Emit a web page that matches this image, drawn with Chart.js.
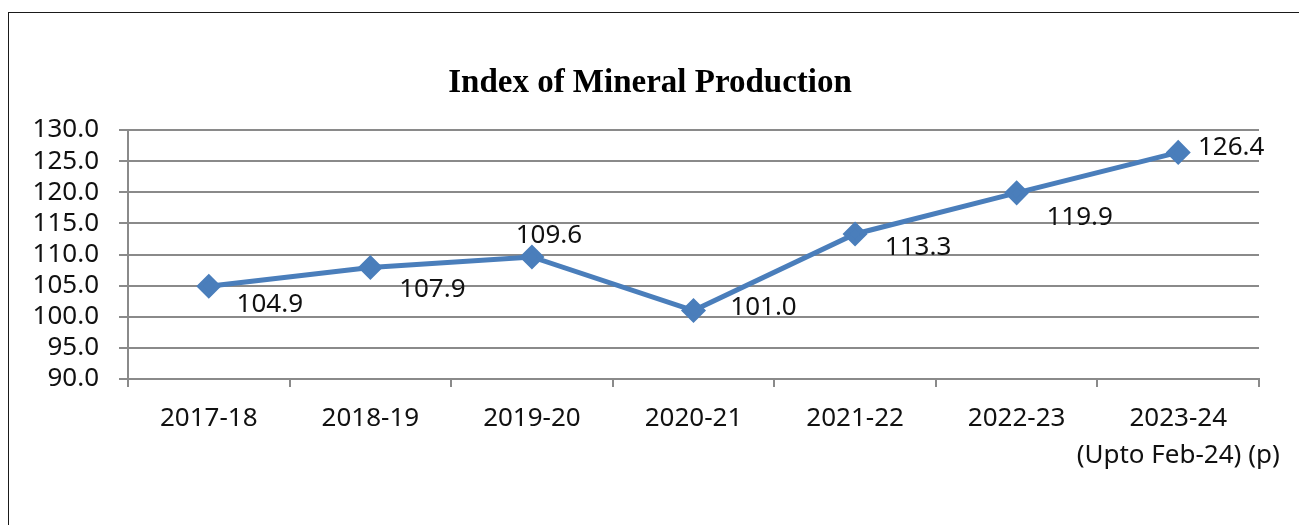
<!DOCTYPE html>
<html>
<head>
<meta charset="utf-8">
<script src="https://cdn.jsdelivr.net/npm/chart.js@4.4.1/dist/chart.umd.min.js"></script>
<style>
  html, body { margin: 0; padding: 0; background: #fff; }
  #wrap { position: relative; width: 1299px; height: 525px; overflow: hidden; }
  #frame { position: absolute; left: 8px; top: 12px; width: 1400px; height: 600px;
           border-left: 1.5px solid #1a1a1a; border-top: 1.5px solid #1a1a1a; }
  canvas { position: absolute; left: 0; top: 0; }
</style>
</head>
<body>
<div id="wrap">
  <div id="frame"></div>
  <canvas id="line-chart" width="1299" height="525"></canvas>
</div>
<script>
// data
const chartTitle = "Index of Mineral Production";
const years = ["2017-18", "2018-19", "2019-20", "2020-21", "2021-22", "2022-23",
  ["2023-24", "(Upto Feb-24) (p)"]];
const indexValues = [104.9, 107.9, 109.6, 101.0, 113.3, 119.9, 126.4];
const yTicks = [90, 95, 100, 105, 110, 115, 120, 125, 130];

const blue = "#4a7ebb";
const txtFont = "'Noto Sans', 'Open Sans', sans-serif";

// title centred on the whole frame + value labels next to the markers
const valueLabels = {
  id: "valueLabels",
  afterDatasetsDraw(chart, args, opts) {
    const ctx = chart.ctx;
    const meta = chart.getDatasetMeta(0);
    ctx.save();
    ctx.textAlign = "center";
    ctx.textBaseline = "middle";
    ctx.fillStyle = "#000";
    ctx.font = "bold 33px 'Liberation Serif', 'Times New Roman', serif";
    ctx.fillText(chartTitle, chart.width / 2 + 0.5, 83);

    ctx.font = "26px " + txtFont;
    ctx.fillStyle = "#111";
    meta.data.forEach((pt, i) => {
      const off = opts.offsets[i];
      ctx.fillText(indexValues[i].toFixed(1), pt.x + off[0], pt.y + off[1]);
    });
    ctx.restore();
  }
};

var config = {
  type: "line",
  data: {
    labels: years,
    datasets: [{
      label: "Index",
      data: indexValues,
      borderColor: blue,
      backgroundColor: blue,
      borderWidth: 5,
      pointStyle: "rectRot",
      pointRadius: 9,
      pointHoverRadius: 9,
      tension: 0,
      fill: false,
    }],
  },
  options: {
    responsive: false,
    animation: false,
    maintainAspectRatio: false,
    layout: { padding: { left: 0, right: 40, top: 130, bottom: 0 } },
    plugins: {
      legend: { display: false },
      tooltip: { enabled: false },
      title: { display: false },
      valueLabels: {
        offsets: [[61, 18], [62, 22], [17, -21], [70, -3], [63, 14], [63, 25], [53, -5]],
      },
    },
    scales: {
      x: {
        offset: true,
        afterFit(scale) { scale.height = 146; },
        border: { color: "#8a8a8a", width: 2 },
        grid: { offset: true, drawOnChartArea: false, drawTicks: true, tickLength: 8, color: "#8a8a8a", lineWidth: 2 },
        ticks: { color: "#111", font: { family: txtFont, size: 26, lineHeight: 1.42 }, padding: 13, maxRotation: 0, autoSkip: false },
      },
      y: {
        min: 90,
        max: 130,
        afterFit(scale) { scale.width = 128; },
        afterBuildTicks(scale) { scale.ticks = yTicks.map(v => ({ value: v })); },
        border: { color: "#8a8a8a", width: 2 },
        grid: { color: "#8a8a8a", lineWidth: 2, drawTicks: true, tickLength: 9 },
        ticks: {
          color: "#111",
          font: { family: txtFont, size: 26 },
          padding: 20,
          autoSkip: false,
          callback: v => Number(v).toFixed(1),
        },
      },
    },
  },
  plugins: [valueLabels],
};

var ctx = document.getElementById("line-chart").getContext("2d");
window.myLine = new Chart(ctx, config);
</script>
</body>
</html>
